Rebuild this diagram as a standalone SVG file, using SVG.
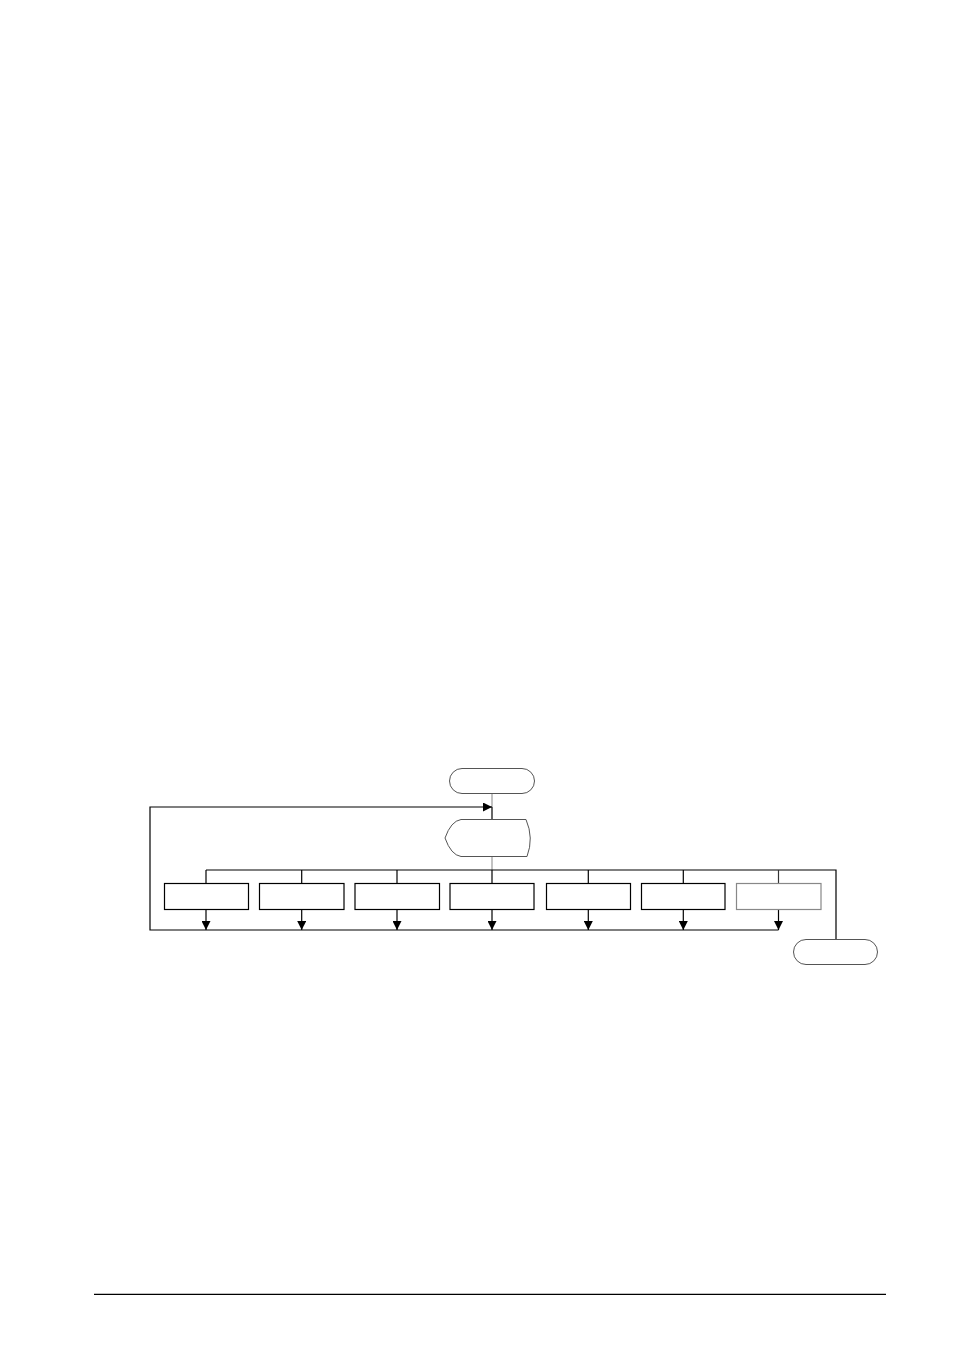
<svg xmlns="http://www.w3.org/2000/svg" width="954" height="1346" viewBox="0 0 954 1346">
<style>
.term{fill:#fff;stroke:#555;stroke-width:1}
.box{fill:#fff;stroke:#000;stroke-width:1.2}
.boxg{fill:#fff;stroke:#888;stroke-width:1.2}
.ln{fill:none;stroke:#000;stroke-width:1.2}
.lg{fill:none;stroke:#999;stroke-width:1.2}
</style>
<defs>
<marker id="ah" viewBox="0 0 10 10" refX="10" refY="5" markerWidth="9" markerHeight="9" markerUnits="userSpaceOnUse" orient="auto"><path d="M0,0 L10,5 L0,10 Z" fill="#000"/></marker>
</defs>
<rect width="954" height="1346" fill="#fff"/>
<g id="connectors">
<line class="lg" x1="492" y1="793.5" x2="492" y2="807"/>
<line class="ln" x1="492" y1="807" x2="492" y2="819.5"/>
<polyline class="ln" points="778.5,930 150,930 150,807 492,807" marker-end="url(#ah)"/>
<line class="lg" x1="492" y1="856.5" x2="492" y2="870"/>
<polyline class="ln" points="206,870 836,870 836,939.5"/>
<line class="ln" x1="206" y1="870" x2="206" y2="883.5"/>
<line class="ln" x1="301.7" y1="870" x2="301.7" y2="883.5"/>
<line class="ln" x1="397" y1="870" x2="397" y2="883.5"/>
<line class="ln" x1="492" y1="870" x2="492" y2="883.5"/>
<line class="ln" x1="588.3" y1="870" x2="588.3" y2="883.5"/>
<line class="ln" x1="683.3" y1="870" x2="683.3" y2="883.5"/>
<line x1="778.5" y1="870" x2="778.5" y2="883.5" stroke="#333" stroke-width="1.2"/>
<line class="ln" x1="206" y1="909.5" x2="206" y2="930" marker-end="url(#ah)"/>
<line class="ln" x1="301.7" y1="909.5" x2="301.7" y2="930" marker-end="url(#ah)"/>
<line class="ln" x1="397" y1="909.5" x2="397" y2="930" marker-end="url(#ah)"/>
<line class="ln" x1="492" y1="909.5" x2="492" y2="930" marker-end="url(#ah)"/>
<line class="ln" x1="588.3" y1="909.5" x2="588.3" y2="930" marker-end="url(#ah)"/>
<line class="ln" x1="683.3" y1="909.5" x2="683.3" y2="930" marker-end="url(#ah)"/>
<line class="ln" x1="778.5" y1="909.5" x2="778.5" y2="930" marker-end="url(#ah)"/>
</g>
<g id="start"><rect class="term" x="449.5" y="768.5" width="85" height="25" rx="12.5"/></g>
<g id="decision"><path class="term" d="M461,819.5 L526,819.5 Q534,838 527,856.5 L461,856.5 Q451,855 445,838 Q451,821 461,819.5 Z"/></g>
<g id="box1"><rect class="box" x="164.5" y="883.5" width="84" height="26"/></g>
<g id="box2"><rect class="box" x="259.5" y="883.5" width="84.5" height="26"/></g>
<g id="box3"><rect class="box" x="355" y="883.5" width="84.5" height="26"/></g>
<g id="box4"><rect class="box" x="450" y="883.5" width="84" height="26"/></g>
<g id="box5"><rect class="box" x="546.5" y="883.5" width="84" height="26"/></g>
<g id="box6"><rect class="box" x="641.5" y="883.5" width="83.5" height="26"/></g>
<g id="box7"><rect class="boxg" x="736.5" y="883.5" width="84.5" height="26"/></g>
<g id="end"><rect class="term" x="793.5" y="939.5" width="84" height="25" rx="12.5"/></g>
<line x1="94" y1="1294.3" x2="886" y2="1294.3" stroke="#000" stroke-width="1.2"/>
</svg>
